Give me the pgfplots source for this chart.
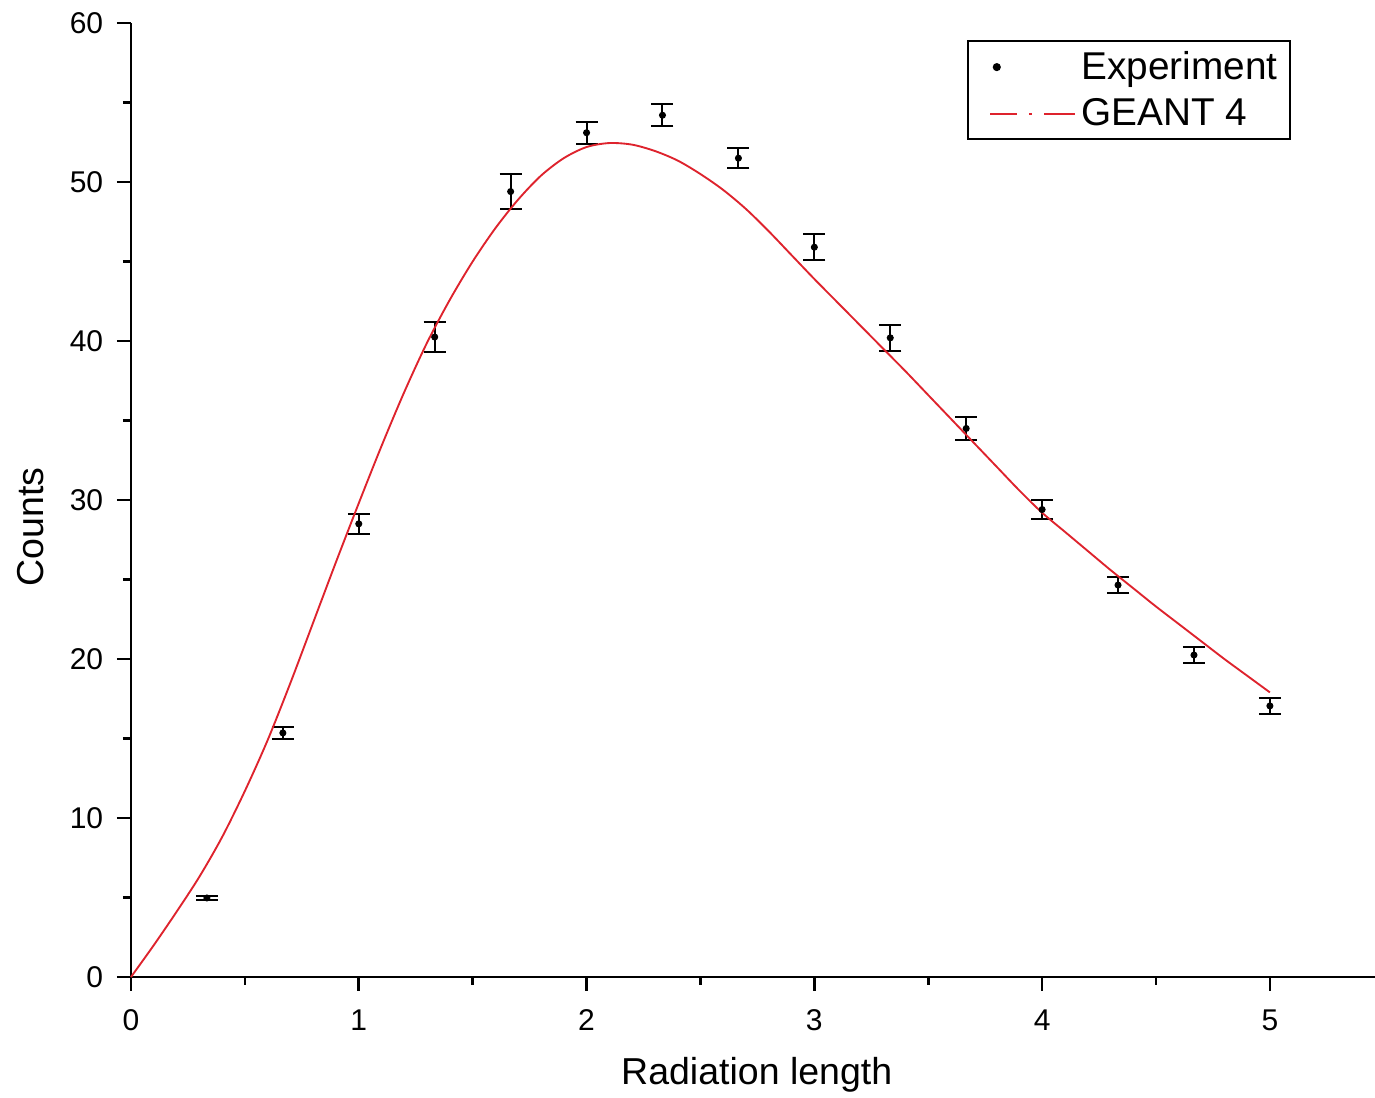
\documentclass[border=0pt]{standalone}
\usepackage{fontspec}
\setmainfont{Liberation Sans}
\usepackage{pgfplots}
\usepackage{pgfplotstable}
\pgfplotsset{compat=1.18}

\definecolor{simred}{RGB}{222,35,45}

% Measured counts with uncertainties
\pgfplotstableread{
x        y      err
0.3333   4.97   0.10
0.6667  15.35   0.40
1.0000  28.50   0.65
1.3333  40.25   0.95
1.6667  49.40   1.10
2.0000  53.10   0.70
2.3333  54.20   0.70
2.6667  51.50   0.65
3.0000  45.90   0.80
3.3333  40.20   0.80
3.6667  34.50   0.70
4.0000  29.40   0.60
4.3333  24.65   0.50
4.6667  20.25   0.50
5.0000  17.05   0.50
}\experiment

% Simulated longitudinal profile
\pgfplotstableread{
x    y
0.0   0.0
0.1   2.0
0.2   4.1
0.3   6.3
0.4   8.8
0.5  11.7
0.6  14.9
0.7  18.5
0.8  22.3
0.9  26.1
1.0  29.8
1.1  33.4
1.2  36.8
1.3  39.9
1.4  42.6
1.5  45.0
1.6  47.1
1.7  48.9
1.8  50.4
1.9  51.5
2.0  52.2
2.1  52.45
2.2  52.35
2.3  51.95
2.4  51.35
2.5  50.5
2.6  49.5
2.7  48.3
2.8  46.9
2.9  45.4
3.0  43.9
3.1  42.45
3.2  41.0
3.3  39.55
3.4  38.1
3.5  36.6
3.6  35.1
3.7  33.6
3.8  32.1
3.9  30.6
4.0  29.2
4.1  28.0
4.2  26.8
4.3  25.6
4.4  24.45
4.5  23.3
4.6  22.2
4.7  21.1
4.8  20.0
4.9  18.95
5.0  17.9
}\geant

\begin{document}
\begin{tikzpicture}
\begin{axis}[
  scale only axis,
  width=497.6pt, height=381.6pt,
  xmin=0, xmax=5.4614,
  ymin=0, ymax=60,
  axis lines*=left,
  axis line style={line width=1.1pt},
  tick style={line width=1.1pt, black},
  tick align=outside,
  major tick length=5.6pt,
  minor tick length=3.2pt,
  xtick={0,1,2,3,4,5},
  ytick={0,10,20,30,40,50,60},
  minor x tick num=1,
  minor y tick num=1,
  tick label style={font=\fontsize{12}{14}\selectfont},
  /pgf/number format/assume math mode=true,
  xticklabel style={yshift=-4pt},
  yticklabel style={xshift=-2pt},
  xlabel={Radiation length},
  ylabel={Counts},
  every axis x label/.style={at={(axis description cs:0.503,-0.103)}, anchor=center,
    font=\fontsize{15}{18}\selectfont},
  every axis y label/.style={at={(axis description cs:-0.081,0.472)}, anchor=center, rotate=90,
    font=\fontsize{15}{18}\selectfont},
  legend style={
    at={(rel axis cs:0.672,0.982)}, anchor=north west,
    draw=black, line width=0.8pt,
    font=\fontsize{15.5}{18}\selectfont,
    inner xsep=3pt, inner ysep=2pt,
    row sep=2.2pt,
    /tikz/every even column/.append style={column sep=4pt},
  },
  legend cell align=left,
  clip=false,
]
\addplot[
  only marks, mark=*, mark size=1.2pt, black,
  error bars/.cd, y dir=both, y explicit,
  error bar style={line width=0.8pt, black},
  error mark options={rotate=90, mark size=4.4pt, line width=0.8pt, black},
] table[x=x, y=y, y error=err] {\experiment};
\addlegendentry{Experiment}

\addplot[
  simred, line width=0.75pt, smooth, no marks,
  legend image code/.code={
    \path[draw=none] (0pt,0pt) (40pt,0pt);
    \draw[simred, line width=0.75pt, solid] (6pt,0pt) -- (16.5pt,0pt);
    \draw[simred, line width=0.75pt, solid] (21.5pt,0pt) -- (22.5pt,0pt);
    \draw[simred, line width=0.75pt, solid] (27.5pt,0pt) -- (40pt,0pt);
  },
] table[x=x, y=y] {\geant};
\addlegendentry{GEANT 4}
\end{axis}
\pgfresetboundingbox
\path[use as bounding box] (-52.4pt,-48.4pt) rectangle (497.6pt,390.8pt);
\end{tikzpicture}
\end{document}
